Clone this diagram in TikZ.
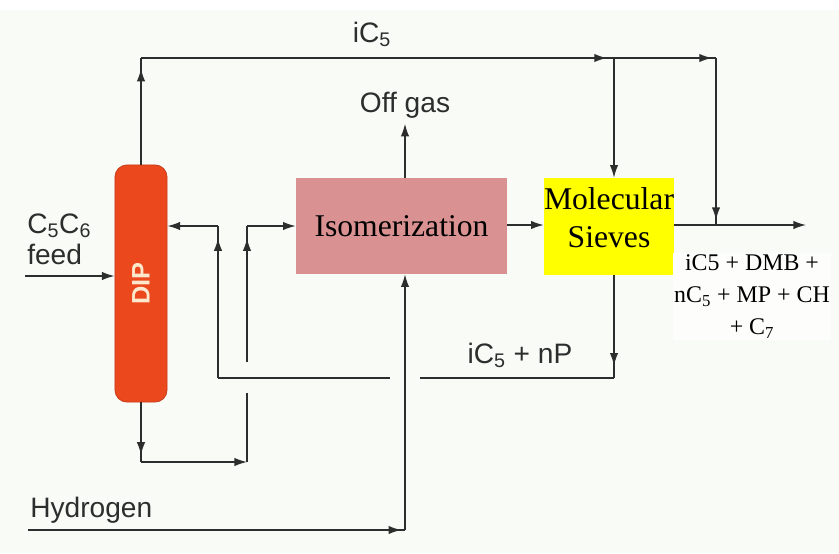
\documentclass[tikz,border=0pt]{standalone}
\usepackage{fontspec}
\setmainfont{Liberation Serif}
\setsansfont{Liberation Sans}
\usepackage{graphicx}
\usetikzlibrary{arrows.meta,decorations.markings,positioning}

\definecolor{pagebg}{RGB}{249,251,246}
\definecolor{linegray}{RGB}{45,45,45}
\definecolor{diporange}{RGB}{236,72,30}
\definecolor{dipedge}{RGB}{200,60,25}
\definecolor{diptext}{RGB}{252,232,205}
\definecolor{isopink}{RGB}{217,145,145}
\definecolor{sieveyellow}{RGB}{255,255,0}

\tikzset{
  pipe/.style={draw=linegray, line width=1pt},
  flow/.style={pipe, -{Latex[length=9pt,width=6pt]}},
  tipat/.style={postaction={decorate},
    decoration={markings, mark=at position #1 with {\arrow{Latex[length=9pt,width=6pt]}}}},
  lbl/.style={font=\sffamily\fontsize{20}{22}\selectfont, text=linegray, inner sep=0pt},
  column/.style={fill=diporange, draw=dipedge, line width=0.6pt, rounded corners=0.3cm,
    minimum width=1.3cm, minimum height=5.925cm, inner sep=0pt,
    font=\sffamily\bfseries\fontsize{18}{18}\selectfont, text=diptext},
  isobox/.style={fill=isopink, minimum width=5.275cm, minimum height=2.4cm, inner sep=0pt,
    font=\fontsize{22.5}{26}\selectfont},
  sievebox/.style={fill=sieveyellow, minimum width=3.25cm, minimum height=2.425cm, inner sep=0pt,
    align=center, text depth=13pt, font=\fontsize{22.5}{27}\selectfont},
  prodtext/.style={fill=white!60!pagebg, inner sep=1pt, align=center, font=\fontsize{17}{22.8}\selectfont}
}

\begin{document}
\begin{tikzpicture}[x=0.025cm,y=-0.025cm]
\useasboundingbox (0,0) rectangle (839,553);
\fill[pagebg] (0,0) rectangle (839,553);
\fill[white] (0,0) rectangle (839,10);
%
% units
\node[column] (dip) at (141,283.5) {\rotatebox{90}{DIP}};
\node[isobox] (iso) at (401.5,226) {Isomerization};
\node[sievebox] (sieve) at (609,226.5) {Molecular\\Sieves};
\node[prodtext, anchor=north] (prod) at (752,253) {iC5 + DMB +\\nC\textsubscript{5} + MP + CH\\+ C\textsubscript{7}};
%
% labels
\node[lbl, anchor=base] (topiC) at (372,42) {iC\textsubscript{5}};
\node[lbl, anchor=base] (offgas) at (405,112) {Off gas};
\node[lbl, anchor=base] (recyc) at (520,363) {iC\textsubscript{5} + nP};
\node[lbl, anchor=base west, align=left] (feed) at (27,264) {C\textsubscript{5}C\textsubscript{6}\\feed};
\node[lbl, anchor=base west] (hydro) at (30,517) {Hydrogen};
%
% corners and gaps
\coordinate (cTL) at (141,58);
\coordinate (cTS) at (614,58);
\coordinate (cTR) at (716,58);
\coordinate (cOut) at (716,225);
\coordinate (prodEnd) at (806,225);
\coordinate (feedStart) at (25,276);
\coordinate (hStart) at (28,530);
\coordinate (hCorner) at (405,530);
\coordinate (cBR) at (614,378);
\coordinate (gapA1) at (420,378);
\coordinate (gapA2) at (390,378);
\coordinate (cBL) at (218,378);
\coordinate (cML) at (218,226);
\coordinate (cBB) at (141,462);
\coordinate (cBB2) at (247,462);
\coordinate (gapB1) at (247,393);
\coordinate (gapB2) at (247,362);
\coordinate (cMR) at (247,226);
%
% iC5 bypass over the top
\draw[pipe, tipat=0.9] (dip.north) -- (cTL);
\draw[pipe, tipat=0.985] (cTL) -- (cTS);
\draw[pipe, tipat=0.96] (cTS) -- (cTR);
\draw[flow] (cTS) -- (cTS |- sieve.north);
\draw[pipe, tipat=0.97] (cTR) -- (cOut);
%
% main line
\draw[flow] (feedStart) -- (feedStart -| dip.west);
\draw[flow] (iso.east |- cOut) -- (sieve.west |- cOut);
\draw[flow] (sieve.east |- cOut) -- (prodEnd);
\draw[flow] (offgas.south |- iso.north) -- ([yshift=-4pt]offgas.south);
\draw[pipe, tipat=0.99] (hStart) -- (hCorner);
\draw[flow] (hCorner) -- (hCorner |- iso.south);
%
% recycle from sieves
\draw[pipe, tipat=0.88] (cTS |- sieve.south) -- (cBR);
\draw[pipe] (cBR) -- (gapA1);
\draw[pipe] (gapA2) -- (cBL);
\draw[pipe, tipat=0.92] (cBL) -- (cML);
\draw[flow] (cML) -- (dip.east |- cML);
%
% bottoms back to reactor
\draw[pipe, tipat=0.88] (dip.south) -- (cBB);
\draw[flow] (cBB) -- (cBB2);
\draw[pipe] (cBB2) -- (gapB1);
\draw[pipe, tipat=0.91] (gapB2) -- (cMR);
\draw[flow] (cMR) -- (iso.west |- cMR);
%
\end{tikzpicture}
\end{document}
